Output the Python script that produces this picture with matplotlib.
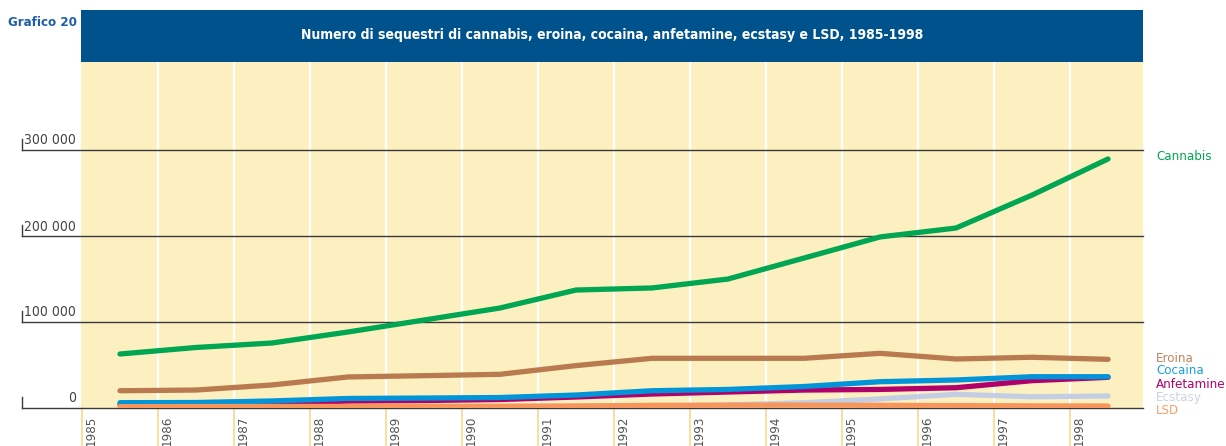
import matplotlib
matplotlib.use("Agg")
import matplotlib.pyplot as plt
from matplotlib.patches import Rectangle

plt.rcParams['font.family'] = ['DejaVu Sans']
plt.rcParams['font.stretch'] = 'condensed'

years = list(range(1985, 1999))
cannabis   = [62200, 69800, 75000, 87800, 101700, 115700, 136600, 139000, 149400, 173800, 198300, 208700, 247000, 289000]
eroina     = [19500, 20300, 26200, 35500, 37000, 38600, 48700, 57200, 57200, 57200, 63000, 56400, 58400, 56000]
cocaina    = [5600, 5800, 7600, 10500, 11000, 11600, 14500, 19500, 21000, 24400, 30000, 32000, 35800, 35800]
anfetamine = [3500, 3500, 4500, 7500, 8100, 9300, 12200, 15700, 18000, 20300, 21000, 23000, 31200, 35100]
ecstasy    = [600, 600, 700, 800, 900, 1000, 1200, 1500, 3000, 5500, 10000, 15300, 12500, 13400]
lsd        = [1000, 1100, 1200, 1300, 1400, 1500, 1800, 2500, 2700, 2800, 2600, 2200, 1900, 1700]
yticks = [0, 100000, 200000, 300000]
ytick_labels = ["0", "100 000", "200 000", "300 000"]
title = "Numero di sequestri di cannabis, eroina, cocaina, anfetamine, ecstasy e LSD, 1985-1998"

series = [
    ("Cannabis", cannabis, "#00A651"),
    ("Eroina", eroina, "#B97A50"),
    ("Anfetamine", anfetamine, "#B0006A"),
    ("Cocaina", cocaina, "#0095D8"),
    ("Ecstasy", ecstasy, "#C3CDE3"),
    ("LSD", lsd, "#F7965C"),
]
label_colors = {"Cannabis": "#00A651", "Eroina": "#C08560", "Cocaina": "#1AA0DC",
                "Anfetamine": "#B0006A", "Ecstasy": "#C9D2E6", "LSD": "#F7A06A"}

W, H = 1226, 446
fig = plt.figure(figsize=(W / 100, H / 100), dpi=100)
fig.patch.set_facecolor("white")

def fx(px):
    return px / W

def fy(py):
    return 1 - py / H

L, R, T, B = 81, 1143, 62, 407.5
ax = fig.add_axes([fx(L), fy(B), fx(R) - fx(L), fy(T) - fy(B)])
ax.set_facecolor("#FDF0C0")
n = len(years)
idx = list(range(n))
ax.set_xlim(-0.513, n - 0.54)
ymax = (B - T) / 0.00086
ax.set_ylim(0, ymax)
for s in ax.spines.values():
    s.set_visible(False)
ax.set_xticks([])
ax.set_yticks([])

for i in range(1, n):
    ax.axvline(i - 0.5, color="white", lw=1.6, zorder=1)

ext = (22 - L) / (R - L)
for v, lab in zip(yticks, ytick_labels):
    ax.axhline(v, xmin=ext, xmax=1, color="#3a3a3a", lw=1.0, clip_on=False, zorder=2)
    ax.plot([ext, ext], [v, v + 11 / 0.00086], transform=ax.get_yaxis_transform(),
            color="#3a3a3a", lw=1.0, clip_on=False, zorder=2)
    ax.text((76 - L) / (R - L), v + 2 / 0.00086, lab, transform=ax.get_yaxis_transform(),
            ha="right", va="bottom", fontsize=10, color="#444444")

for name, vals, col in series:
    ax.plot(idx, vals, color=col, lw=3.8, solid_capstyle="round",
            solid_joinstyle="round", zorder=3)

for i, yr in enumerate(years):
    xb = i - 0.5
    ax.plot([xb, xb], [0, -40 / 0.00086], color="#FCD98E", lw=1.2, clip_on=False, zorder=1)
    ax.text(xb + 9 / 76, -8 / 0.00086, str(yr), rotation=90, ha="center", va="top",
            fontsize=9.5, color="#555555", clip_on=False)

lab_y = {"Cannabis": 157, "Eroina": 358, "Cocaina": 371, "Anfetamine": 384,
         "Ecstasy": 397, "LSD": 410}
for name in ["Cannabis", "Eroina", "Cocaina", "Anfetamine", "Ecstasy", "LSD"]:
    fig.text(fx(1156), fy(lab_y[name]), name, ha="left", va="center",
             fontsize=9.5, color=label_colors[name])

fig.patches.append(Rectangle((fx(81), fy(62)), fx(1143) - fx(81), fy(10) - fy(62),
                             transform=fig.transFigure, facecolor="#00528C",
                             edgecolor="none", zorder=0))
fig.text(fx(612), fy(35), title, ha="center", va="center", fontsize=10,
         fontweight="bold", color="white")
fig.text(fx(8), fy(22), "Grafico 20", ha="left", va="center", fontsize=9.5,
         fontweight="bold", color="#1E5FAA")

fig.savefig("out.png", dpi=100)
